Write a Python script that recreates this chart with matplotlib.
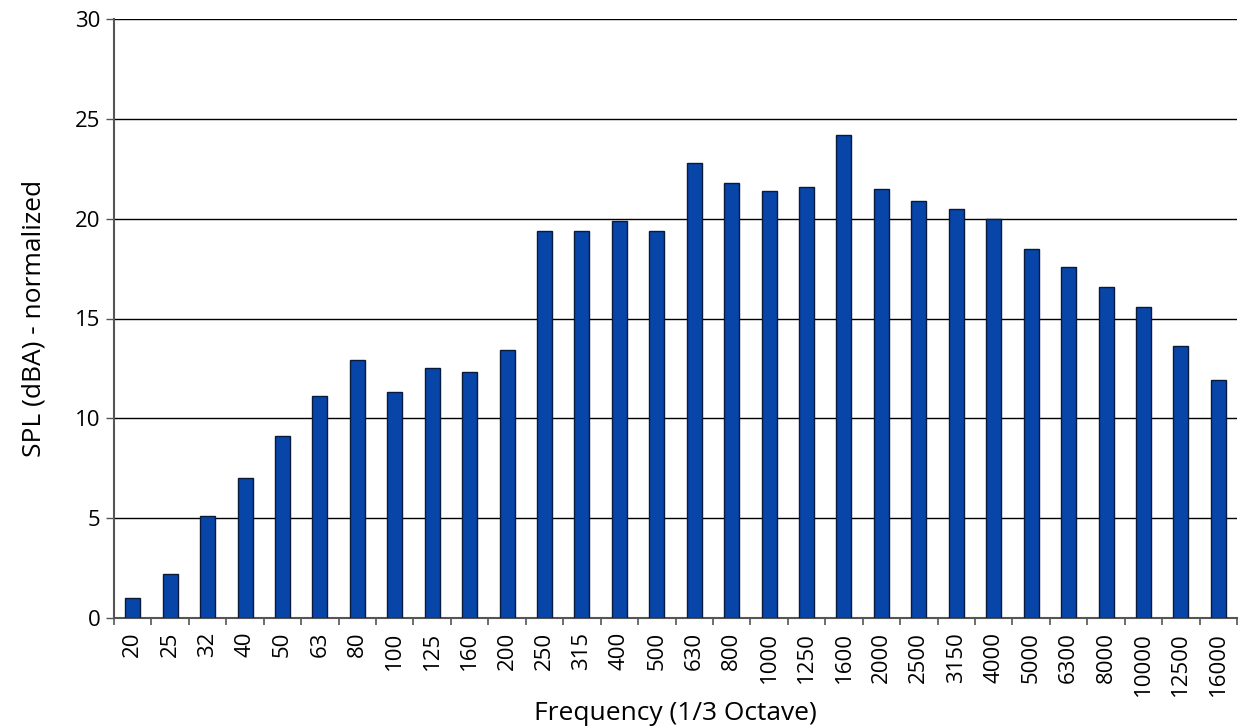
import numpy as np
import matplotlib
matplotlib.use("Agg")
import matplotlib.pyplot as plt

# ─── Data ──────────────────────────────────────────────────────────────────────
freqs = ["20", "25", "32", "40", "50", "63", "80", "100", "125", "160", "200",
         "250", "315", "400", "500", "630", "800", "1000", "1250", "1600", "2000",
         "2500", "3150", "4000", "5000", "6300", "8000", "10000", "12500", "16000"]
spl = [1.0, 2.2, 5.1, 7.0, 9.1, 11.1, 12.9, 11.3, 12.5, 12.3, 13.4,
       19.4, 19.4, 19.9, 19.4, 22.8, 21.8, 21.4, 21.6, 24.2, 21.5,
       20.9, 20.5, 20.0, 18.5, 17.6, 16.6, 15.6, 13.6, 11.9]

plt.rcParams["font.family"] = ["Open Sans", "DejaVu Sans"]

fig = plt.figure(figsize=(12.42, 7.28), dpi=100)
ax = fig.add_axes([0.0918, 0.151, 0.9042, 0.823])

x = np.arange(len(freqs))
ax.bar(x, spl, width=0.4, color="#0845A8", edgecolor="#0A1A3A", linewidth=1.0, zorder=3)

ax.set_xlim(-0.5, len(freqs) - 0.5)
ax.set_ylim(0, 30)
ax.set_yticks(np.arange(0, 31, 5))
ax.yaxis.grid(True, color="black", linewidth=1.0, zorder=0)
ax.set_axisbelow(True)

# category labels centered, tick marks at boundaries
ax.set_xticks(x)
ax.set_xticklabels(freqs, rotation=90)
ax.tick_params(axis="x", which="major", length=0, pad=10, labelsize=16)
ax.set_xticks(np.arange(-0.5, len(freqs), 1.0), minor=True)
ax.tick_params(axis="x", which="minor", length=5, width=1.2, color="#555555", direction="out")
ax.tick_params(axis="y", length=6, width=1.0, color="#555555", labelsize=16, pad=4)

for side in ["top", "right"]:
    ax.spines[side].set_visible(False)
for side in ["left", "bottom"]:
    ax.spines[side].set_color("#555555")
    ax.spines[side].set_linewidth(1.5)

ax.set_xlabel("Frequency (1/3 Octave)", fontsize=19)
ax.xaxis.set_label_coords(0.5, -0.138)
ax.set_ylabel("SPL (dBA) - normalized", fontsize=19)
ax.yaxis.set_label_coords(-0.06, 0.5)

fig.savefig("out.png", dpi=100)
